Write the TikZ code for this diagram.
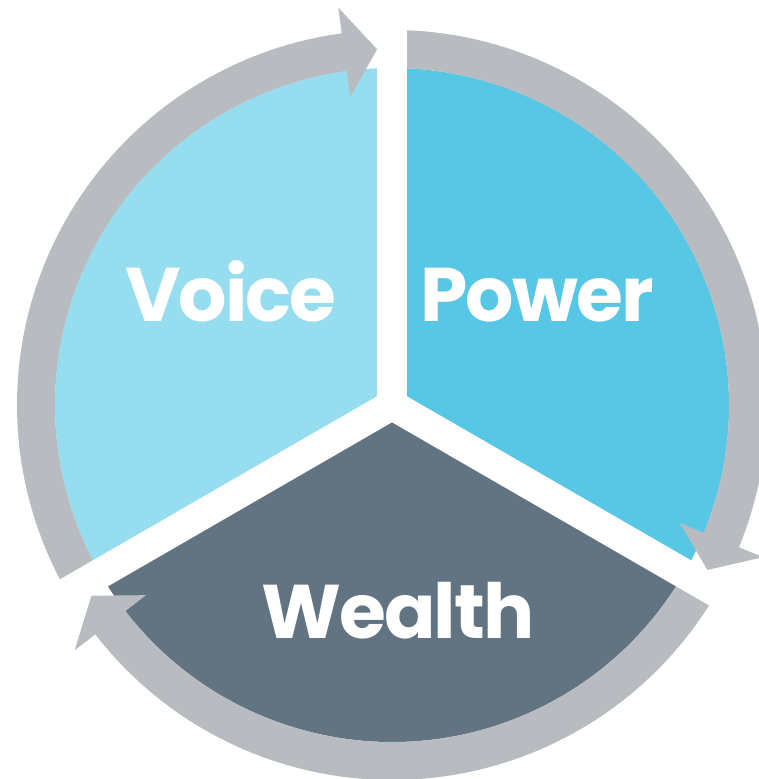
\documentclass[tikz,border=0pt]{standalone}
\usepackage{fontspec}
\newfontfamily\segfont[LetterSpace=-2.5]{Poppins}
\usepackage{tikz}
\definecolor{voiceblue}{RGB}{151,221,240}
\definecolor{powerblue}{RGB}{88,199,229}
\definecolor{wealthgray}{RGB}{98,116,130}
\definecolor{ringgray}{RGB}{184,187,191}

\begin{document}
\begin{tikzpicture}[x=0.5pt,y=0.5pt,
  segtext/.style={text=white,anchor=base,inner sep=0pt,
    font=\segfont\bfseries\fontsize{38}{38}\selectfont},
  gapline/.style={white,line width=15pt,line cap=round}]
  \useasboundingbox (-392,-374) rectangle (366,405);

  % Sectors
  \fill[voiceblue] (0,0) -- (90:337) arc (90:210:337) -- cycle;
  \fill[powerblue] (0,0) -- (-30:337) arc (-30:90:337) -- cycle;
  \fill[wealthgray] (0,0) -- (210:337) arc (210:330:337) -- cycle;

  % Ring arrows, clockwise
  \foreach \a/\b in {210/90, 90/-30, -30/-150} {
    \fill[ringgray] (\a:337) arc (\a:\b+7.7:337) -- (\b+7.7:311)
      -- (\b+2.4:356) -- (\b+7.7:401) -- (\b+7.7:375)
      arc (\b+7.7:\a:375) -- cycle;
  }

  % Gaps between sectors
  \foreach \d in {90,210,330}
    \draw[gapline] (0,0) -- (\d:420);

  % Labels
  \node[segtext] (voice) at (-161,83) {Voice};
  \node[segtext] (power) at (145,83) {Power};
  \node[segtext] (wealth) at (6,-234) {Wealth};
\end{tikzpicture}
\end{document}
